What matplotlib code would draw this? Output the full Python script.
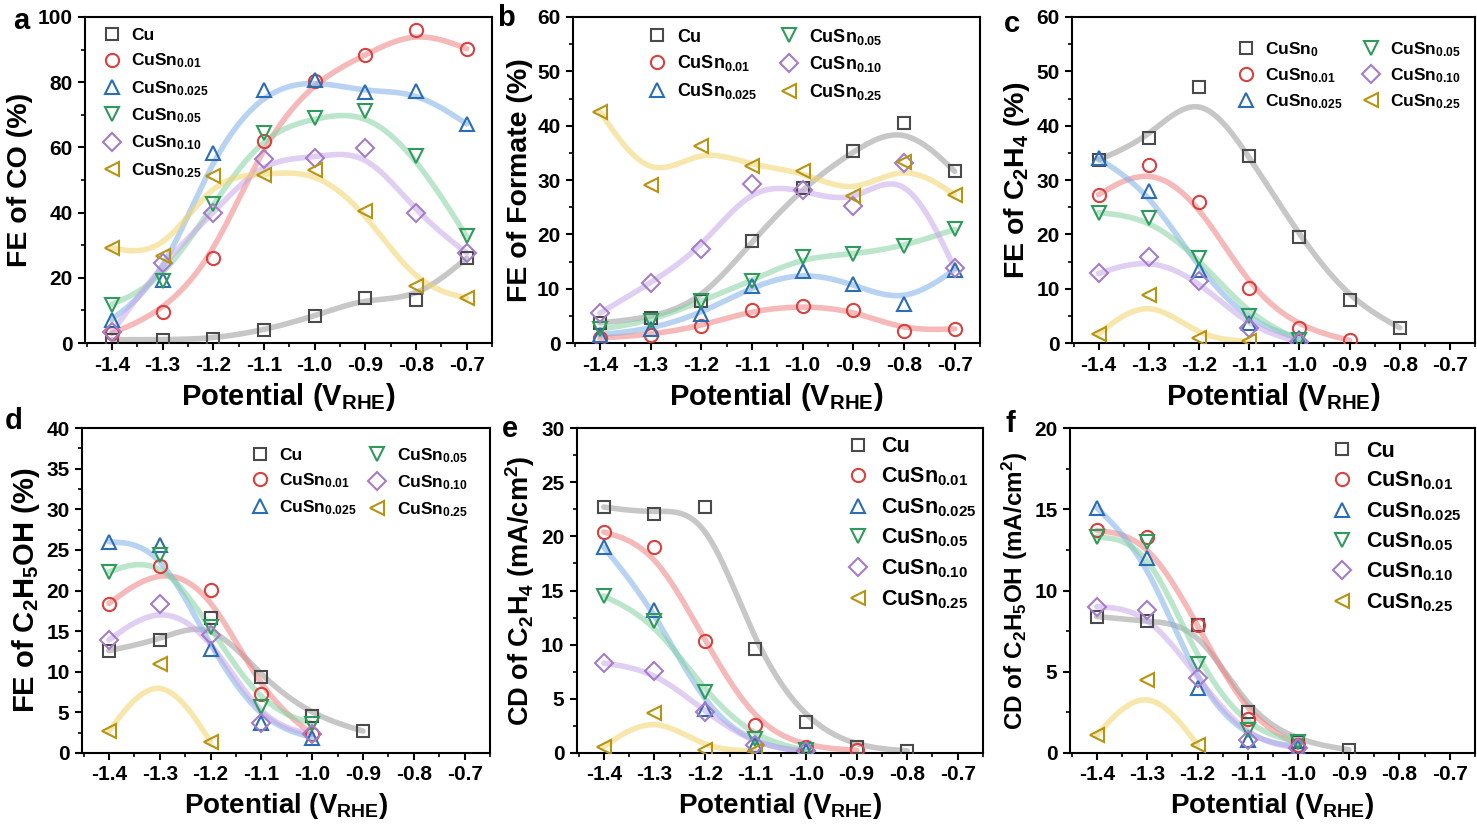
import matplotlib
matplotlib.use("Agg")
import matplotlib.pyplot as plt
import numpy as np
from matplotlib.ticker import MultipleLocator, FormatStrFormatter

plt.rcParams['font.family'] = ['Liberation Sans', 'DejaVu Sans']
plt.rcParams['font.weight'] = 'bold'
plt.rcParams['axes.labelweight'] = 'bold'
plt.rcParams['axes.unicode_minus'] = False
plt.rcParams['mathtext.fontset'] = 'custom'
plt.rcParams['mathtext.rm'] = 'Liberation Sans:bold'
plt.rcParams['mathtext.bf'] = 'Liberation Sans:bold'
plt.rcParams['mathtext.it'] = 'Liberation Sans:bold'
plt.rcParams['mathtext.default'] = 'rm'

# potentials (V vs RHE), every series starts at -1.4
potentials = [-1.4, -1.3, -1.2, -1.1, -1.0, -0.9, -0.8, -0.7]

samples = ['Cu', 'CuSn$_{0.01}$', 'CuSn$_{0.025}$', 'CuSn$_{0.05}$', 'CuSn$_{0.10}$', 'CuSn$_{0.25}$']
samples_c = ['CuSn$_{0}$'] + samples[1:]

# (a) FE of CO (%)
fe_co_cu = [1.0, 1.0, 1.3, 3.9, 8.2, 13.8, 13.3, 26.0]
fe_co_001 = [3.0, 9.5, 26.0, 62.0, 80.5, 88.4, 96.1, 90.3]
fe_co_0025 = [7.2, 19.4, 58.3, 77.5, 80.8, 76.9, 77.4, 67.2]
fe_co_005 = [11.8, 18.9, 42.7, 64.4, 69.0, 71.3, 57.3, 32.7]
fe_co_010 = [3.3, 24.5, 39.9, 56.5, 56.7, 59.8, 39.9, 27.6]
fe_co_025 = [29.1, 26.6, 51.1, 51.6, 53.2, 40.4, 17.6, 13.8]

# (b) FE of formate (%)
fe_hcoo_cu = [3.7, 4.6, 7.7, 18.7, 28.6, 35.4, 40.5, 31.6]
fe_hcoo_001 = [0.9, 1.5, 3.1, 6.0, 6.9, 6.0, 2.3, 2.6]
fe_hcoo_0025 = [1.5, 2.5, 5.4, 10.4, 13.2, 10.9, 7.1, 13.5]
fe_hcoo_005 = [2.5, 4.0, 7.7, 11.5, 15.8, 16.3, 17.8, 20.9]
fe_hcoo_010 = [5.5, 11.0, 17.3, 29.3, 28.2, 25.3, 33.1, 13.8]
fe_hcoo_025 = [42.6, 29.1, 36.2, 32.5, 31.7, 27.0, 33.4, 27.3]

# (c) FE of C2H4 (%)
fe_c2h4_cu = [33.7, 37.7, 47.1, 34.5, 19.6, 8.0, 2.8]
fe_c2h4_001 = [27.3, 32.7, 25.9, 10.1, 2.8, 0.5]
fe_c2h4_0025 = [34.0, 27.9, 13.5, 3.7, 0.9]
fe_c2h4_005 = [24.0, 23.0, 15.6, 5.0, 0.5]
fe_c2h4_010 = [12.8, 15.8, 11.5, 2.8, 0.2]
fe_c2h4_025 = [1.7, 8.8, 0.9, 0.3]

# (d) FE of C2H5OH (%)
fe_etoh_cu = [12.6, 13.9, 16.6, 9.3, 4.6, 2.7]
fe_etoh_001 = [18.4, 23.0, 20.1, 7.3, 2.3]
fe_etoh_0025 = [26.0, 25.6, 12.8, 3.7, 1.9]
fe_etoh_005 = [22.3, 24.4, 15.5, 5.7, 3.6]
fe_etoh_010 = [13.9, 18.4, 14.5, 3.7, 2.3]
fe_etoh_025 = [2.7, 10.9, 1.4]

# (e) partial current density of C2H4 (mA/cm2)
cd_c2h4_cu = [22.7, 22.1, 22.7, 9.6, 2.9, 0.55, 0.2]
cd_c2h4_001 = [20.4, 19.0, 10.3, 2.6, 0.55, 0.25]
cd_c2h4_0025 = [19.0, 13.2, 4.1, 0.7, 0.15]
cd_c2h4_005 = [14.5, 12.2, 5.6, 1.3, 0.25]
cd_c2h4_010 = [8.3, 7.6, 3.8, 0.7, 0.15]
cd_c2h4_025 = [0.6, 3.7, 0.3, 0.2]

# (f) partial current density of C2H5OH (mA/cm2)
cd_etoh_cu = [8.4, 8.1, 7.9, 2.5, 0.7, 0.2]
cd_etoh_001 = [13.7, 13.3, 7.9, 2.1, 0.5]
cd_etoh_0025 = [15.1, 12.0, 4.0, 0.8, 0.4]
cd_etoh_005 = [13.3, 13.0, 5.5, 1.4, 0.7]
cd_etoh_010 = [9.0, 8.8, 4.6, 0.8, 0.3]
cd_etoh_025 = [1.1, 4.5, 0.5]

edge_colors = ['#4a4a4a', '#d9413f', '#2a6db5', '#2e9b5c', '#a47cc8', '#b89312']
line_colors = ['#9a9a9a', '#f08080', '#7fb0e6', '#86d3a3', '#c8a8e8', '#f2d56a']
markers = ['s', 'o', '^', 'v', 'D', '<']
msizes = [8.5, 9.5, 10.5, 10.5, 9, 10.5]


def bspline(x, y, n=60):
    # cubic B-spline with the data as control points, ends clamped
    P = np.column_stack([x, y])
    P = np.vstack([P[0], P[0], P, P[-1], P[-1]])
    t = np.linspace(0, 1, n)[:, None]
    b0 = (1 - t) ** 3 / 6
    b1 = (3 * t ** 3 - 6 * t ** 2 + 4) / 6
    b2 = (-3 * t ** 3 + 3 * t ** 2 + 3 * t + 1) / 6
    b3 = t ** 3 / 6
    segs = [b0 * P[i] + b1 * P[i + 1] + b2 * P[i + 2] + b3 * P[i + 3] for i in range(len(P) - 3)]
    c = np.vstack(segs)
    return c[:, 0], c[:, 1]


def panel(rect, series, labels, ymax, ymaj, ymin, ylabel, xlabel_size, ylabel_size,
          leg_anchor, leg_ncol, leg_size, leg_colspace=1.0, leg_spacing=0.5):
    ax = fig.add_axes(rect)
    handles = []
    for i, vals in enumerate(series):
        xs = potentials[:len(vals)]
        cx, cy = bspline(xs, vals)
        ax.plot(cx, cy, color=line_colors[i], lw=4, alpha=0.55, solid_capstyle='round', zorder=1)
    for i, vals in enumerate(series):
        xs = potentials[:len(vals)]
        h, = ax.plot(xs, vals, linestyle='none', marker=markers[i], ms=msizes[i],
                     mfc='none', mec=edge_colors[i], mew=1.5, zorder=3)
        handles.append(h)
    ax.set_xlim(-1.453, -0.65)
    ax.set_ylim(0, ymax)
    ax.xaxis.set_major_locator(MultipleLocator(0.1))
    ax.xaxis.set_minor_locator(MultipleLocator(0.05))
    ax.xaxis.set_major_formatter(FormatStrFormatter('%.1f'))
    ax.yaxis.set_major_locator(MultipleLocator(ymaj))
    ax.yaxis.set_minor_locator(MultipleLocator(ymin))
    ax.tick_params(which='major', direction='out', length=5, width=1.5, labelsize=15, pad=4)
    ax.tick_params(which='minor', direction='out', length=3, width=1.2)
    for s in ax.spines.values():
        s.set_linewidth(1.5)
    ax.set_xlabel('Potential (V$_{\\mathrm{RHE}}$)', fontsize=xlabel_size, labelpad=5)
    ax.set_ylabel(ylabel, fontsize=ylabel_size, labelpad=3)
    ax.legend(handles, labels, loc='upper left', bbox_to_anchor=leg_anchor, ncol=leg_ncol,
              frameon=False, handlelength=1.0, handletextpad=0.6,
              borderpad=0, borderaxespad=0, labelspacing=leg_spacing,
              columnspacing=leg_colspace, prop={'size': leg_size, 'weight': 'bold'})
    return ax


fig = plt.figure(figsize=(14.77, 8.27), dpi=100)
W, H = 1477, 827


def rect(x0, x1, y0, y1):
    return [x0 / W, 1 - y1 / H, (x1 - x0) / W, (y1 - y0) / H]


panel(rect(85, 492, 17, 343),
      [fe_co_cu, fe_co_001, fe_co_0025, fe_co_005, fe_co_010, fe_co_025], samples,
      100, 20, 10, 'FE of CO (%)', 21, 20.5, (0.045, 0.967), 1, 12.5, 1.0, 0.5)
panel(rect(573, 980, 17, 343),
      [fe_hcoo_cu, fe_hcoo_001, fe_hcoo_0025, fe_hcoo_005, fe_hcoo_010, fe_hcoo_025], samples,
      60, 10, 5, 'FE of Formate (%)', 21, 20.5, (0.185, 0.97), 2, 13, 1.25, 0.42)
panel(rect(1072, 1475, 17, 343),
      [fe_c2h4_cu, fe_c2h4_001, fe_c2h4_0025, fe_c2h4_005, fe_c2h4_010, fe_c2h4_025], samples_c,
      60, 10, 5, 'FE of C$_2$H$_4$ (%)', 21, 20.5, (0.41, 0.93), 2, 12.5, 1.15, 0.42)
panel(rect(82, 490, 428, 753),
      [fe_etoh_cu, fe_etoh_001, fe_etoh_0025, fe_etoh_005, fe_etoh_010, fe_etoh_025], samples,
      40, 5, 2.5, 'FE of C$_2$H$_5$OH (%)', 20, 21, (0.415, 0.945), 2, 12.5, 0.7, 0.48)
panel(rect(577, 983, 428, 753),
      [cd_c2h4_cu, cd_c2h4_001, cd_c2h4_0025, cd_c2h4_005, cd_c2h4_010, cd_c2h4_025], samples,
      30, 5, 2.5, 'CD of C$_2$H$_4$ (mA/cm$^2$)', 20, 19.5, (0.665, 0.975), 1, 15.5, 1.0, 0.38)
panel(rect(1070, 1475, 428, 753),
      [cd_etoh_cu, cd_etoh_001, cd_etoh_0025, cd_etoh_005, cd_etoh_010, cd_etoh_025], samples,
      20, 5, 2.5, 'CD of C$_2$H$_5$OH (mA/cm$^2$)', 20, 17.5, (0.645, 0.96), 1, 15.5, 1.0, 0.36)

for letter, px, py in [('a', 21, 21), ('b', 506, 18), ('c', 1012, 24),
                       ('d', 14, 421), ('e', 510, 429), ('f', 1010, 424)]:
    fig.text(px / W, 1 - py / H, letter, fontsize=21, fontweight='bold', ha='center', va='center')

fig.savefig('out.png', dpi=100)
